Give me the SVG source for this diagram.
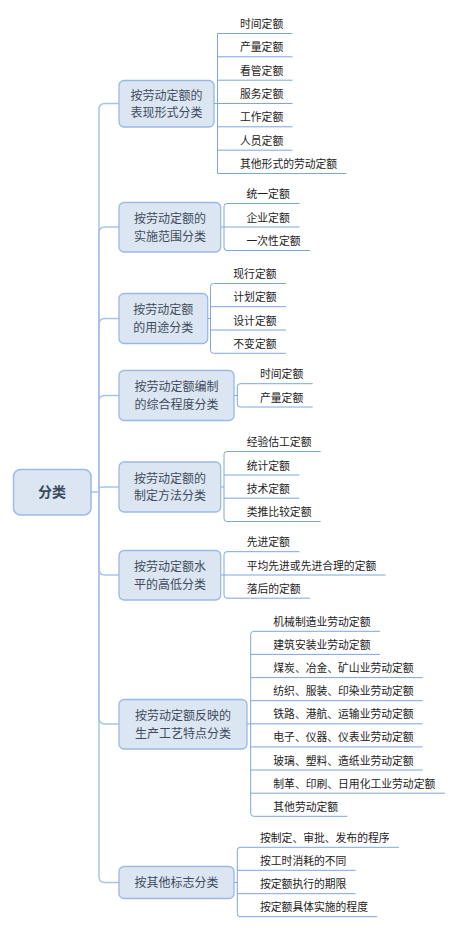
<svg xmlns="http://www.w3.org/2000/svg" width="458" height="930" viewBox="0 0 458 930">
<style>
.bg{fill:#ffffff}
.root rect{fill:#dce6f2;stroke:#9bbbe6;stroke-width:1.5}
.root text{font-family:"Noto Sans CJK SC",sans-serif;font-size:14px;font-weight:bold;fill:#3c4a5e;text-anchor:middle}
.br rect{fill:#dce6f2;stroke:#98b9e5;stroke-width:1.3}
.br text{font-family:"Noto Sans CJK SC",sans-serif;font-size:12px;fill:#3f4b5c;text-anchor:middle}
.leaf text{font-family:"Noto Sans CJK SC",sans-serif;font-size:10.8px;fill:#222222}
.trunk{fill:none;stroke:#a6c3ec;stroke-width:1.5}
.lc{fill:none;stroke:#7ea6de;stroke-width:1}
</style>
<rect class="bg" x="0" y="0" width="458" height="930"/>
<g id="connectors">
  <path class="trunk" d="M91,492 H99"/>
  <path class="trunk" d="M99,492 V109.5 Q99,103.5 105,103.5 H119"/>
  <path class="trunk" d="M99,492 V233 Q99,227 105,227 H119"/>
  <path class="trunk" d="M99,492 V324.5 Q99,318.5 105,318.5 H119"/>
  <path class="trunk" d="M99,492 V401.5 Q99,395.5 105,395.5 H119"/>
  <path class="trunk" d="M99,492 C99,487 99,487 105,487 H119"/>
  <path class="trunk" d="M99,492 V569 Q99,575 105,575 H119"/>
  <path class="trunk" d="M99,492 V718 Q99,724 105,724 H119"/>
  <path class="trunk" d="M99,492 V876.5 Q99,882.5 105,882.5 H119"/>
  <path class="lc" d="M214,103.5 H217.5"/>
  <path class="lc" d="M292.5,33.5 H217.5 V173.5 H346.5"/>
  <path class="lc" d="M217.5,56.8 H292.5 M217.5,80.2 H292.5 M217.5,103.5 H292.5 M217.5,126.8 H292.5 M217.5,150.2 H292.5"/>
  <path class="lc" d="M221,227 H299.5"/>
  <path class="lc" d="M299.5,203.5 H227 Q224,203.5 224,206.5 V247.5 Q224,250.5 227,250.5 H310"/>
  <path class="lc" d="M208,318.5 H210.5"/>
  <path class="lc" d="M286,283.5 H213.5 Q210.5,283.5 210.5,286.5 V350.3 Q210.5,353.3 213.5,353.3 H286"/>
  <path class="lc" d="M210.5,306.7 H286 M210.5,330 H286"/>
  <path class="lc" d="M234,395.5 H237.3"/>
  <path class="lc" d="M312.7,383.7 H240.3 Q237.3,383.7 237.3,386.7 V404 Q237.3,407 240.3,407 H312.7"/>
  <path class="lc" d="M221,487 H224"/>
  <path class="lc" d="M320.7,451.5 H227 Q224,451.5 224,454.5 V518.5 Q224,521.5 227,521.5 H320.7"/>
  <path class="lc" d="M224,475 H299.3 M224,498.2 H299.3"/>
  <path class="lc" d="M221,575 H385.7"/>
  <path class="lc" d="M299.3,551.7 H227 Q224,551.7 224,554.7 V595.2 Q224,598.2 227,598.2 H310"/>
  <path class="lc" d="M247,724 H250.7"/>
  <path class="lc" d="M380,631.3 H253.7 Q250.7,631.3 250.7,634.3 V813.3 Q250.7,816.3 253.7,816.3 H347.3"/>
  <path class="lc" d="M250.7,654.4 H380 M250.7,677.6 H422.7 M250.7,700.7 H422.7 M250.7,723.8 H422.7 M250.7,746.9 H422.7 M250.7,770 H422.7 M250.7,793.2 H445"/>
  <path class="lc" d="M234,882.5 H237.3"/>
  <path class="lc" d="M399,847.3 H240.3 Q237.3,847.3 237.3,850.3 V913.7 Q237.3,916.7 240.3,916.7 H377.3"/>
  <path class="lc" d="M237.3,870.3 H355.7 M237.3,893.7 H355.7"/>
</g>
<g id="root" class="root">
  <rect x="13.5" y="469.5" width="77.5" height="45.5" rx="7"/>
  <text x="52" y="497">分类</text>
</g>
<g id="b1" class="br">
  <rect x="119" y="80.5" width="95" height="46.5" rx="5"/>
  <text x="166.5" y="99.6">按劳动定额的<tspan x="166.5" dy="17.5">表现形式分类</tspan></text>
</g>
<g id="b2" class="br">
  <rect x="119" y="202.5" width="101.7" height="49.5" rx="5"/>
  <text x="170" y="223.1">按劳动定额的<tspan x="170" dy="17.5">实施范围分类</tspan></text>
</g>
<g id="b3" class="br">
  <rect x="119" y="293.5" width="88.7" height="50" rx="5"/>
  <text x="163.3" y="314.4">按劳动定额<tspan x="163.3" dy="17.5">的用途分类</tspan></text>
</g>
<g id="b4" class="br">
  <rect x="119" y="370.5" width="115" height="50" rx="5"/>
  <text x="176.5" y="391.4">按劳动定额编制<tspan x="176.5" dy="17.5">的综合程度分类</tspan></text>
</g>
<g id="b5" class="br">
  <rect x="119" y="462" width="101.7" height="50" rx="5"/>
  <text x="170" y="482.9">按劳动定额的<tspan x="170" dy="17.5">制定方法分类</tspan></text>
</g>
<g id="b6" class="br">
  <rect x="119" y="550.5" width="101.7" height="49.5" rx="5"/>
  <text x="170" y="571.1">按劳动定额水<tspan x="170" dy="17.5">平的高低分类</tspan></text>
</g>
<g id="b7" class="br">
  <rect x="119" y="699.5" width="128" height="49.5" rx="5"/>
  <text x="183" y="720.1">按劳动定额反映的<tspan x="183" dy="17.5">生产工艺特点分类</tspan></text>
</g>
<g id="b8" class="br">
  <rect x="119" y="866.5" width="115" height="32" rx="5"/>
  <text x="176.5" y="887">按其他标志分类</text>
</g>
<g id="l1" class="leaf">
  <text x="240" y="28">时间定额</text>
  <text x="240" y="51.3">产量定额</text>
  <text x="240" y="74.7">看管定额</text>
  <text x="240" y="98">服务定额</text>
  <text x="240" y="121.3">工作定额</text>
  <text x="240" y="144.7">人员定额</text>
  <text x="240" y="168">其他形式的劳动定额</text>
</g>
<g id="l2" class="leaf">
  <text x="246.5" y="198">统一定额</text>
  <text x="246.5" y="221.5">企业定额</text>
  <text x="246.5" y="245">一次性定额</text>
</g>
<g id="l3" class="leaf">
  <text x="233.3" y="278">现行定额</text>
  <text x="233.3" y="301.2">计划定额</text>
  <text x="233.3" y="324.5">设计定额</text>
  <text x="233.3" y="347.8">不变定额</text>
</g>
<g id="l4" class="leaf">
  <text x="260" y="378.2">时间定额</text>
  <text x="260" y="401.5">产量定额</text>
</g>
<g id="l5" class="leaf">
  <text x="246.7" y="446">经验估工定额</text>
  <text x="246.7" y="469.5">统计定额</text>
  <text x="246.7" y="492.7">技术定额</text>
  <text x="246.7" y="516">类推比较定额</text>
</g>
<g id="l6" class="leaf">
  <text x="246.7" y="546.2">先进定额</text>
  <text x="246.7" y="569.5">平均先进或先进合理的定额</text>
  <text x="246.7" y="592.7">落后的定额</text>
</g>
<g id="l7" class="leaf">
  <text x="273.3" y="625.8">机械制造业劳动定额</text>
  <text x="273.3" y="648.9">建筑安装业劳动定额</text>
  <text x="273.3" y="672.1">煤炭、冶金、矿山业劳动定额</text>
  <text x="273.3" y="695.2">纺织、服装、印染业劳动定额</text>
  <text x="273.3" y="718.3">铁路、港航、运输业劳动定额</text>
  <text x="273.3" y="741.4">电子、仪器、仪表业劳动定额</text>
  <text x="273.3" y="764.5">玻璃、塑料、造纸业劳动定额</text>
  <text x="273.3" y="787.7">制革、印刷、日用化工业劳动定额</text>
  <text x="273.3" y="810.8">其他劳动定额</text>
</g>
<g id="l8" class="leaf">
  <text x="260" y="841.8">按制定、审批、发布的程序</text>
  <text x="260" y="864.8">按工时消耗的不同</text>
  <text x="260" y="888.2">按定额执行的期限</text>
  <text x="260" y="911.2">按定额具体实施的程度</text>
</g>
</svg>
